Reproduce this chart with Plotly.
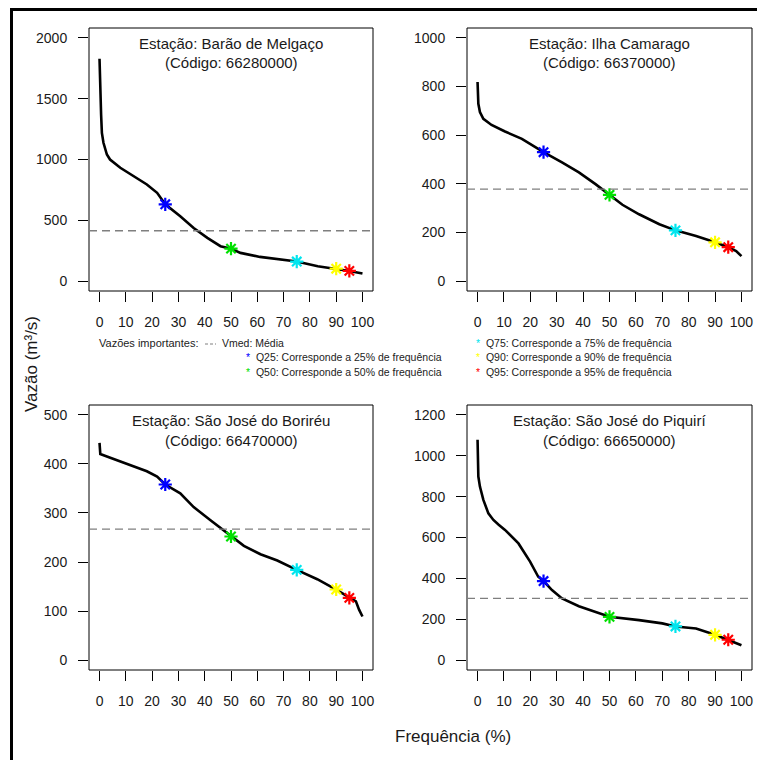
import plotly.graph_objects as go

W, H = 757, 760

# ---------------- data ----------------
stations = ["Estação: Barão de Melgaço", "Estação: Ilha Camarago",
            "Estação: São José do Boriréu", "Estação: São José do Piquirí"]
codes = ["(Código: 66280000)", "(Código: 66370000)",
         "(Código: 66470000)", "(Código: 66650000)"]

freq_1 = [0, 0.05, 0.3, 0.6, 0.9, 1.5, 2.8, 4, 7.9, 13, 18, 21.9, 25, 30.7, 35.8, 41, 46, 50,
          53.6, 61, 70, 75, 83, 90, 95, 100]
vazao_1 = [1827, 1767, 1534, 1370, 1219, 1137, 1041, 1000, 932, 863, 795, 726, 632, 534, 438,
           356, 288, 268, 233, 200, 178, 162, 123, 103, 85, 63]

freq_2 = [0, 0.1, 0.3, 0.9, 2.2, 5.3, 10.4, 16.8, 25, 32, 38.4, 44.7, 50, 54.9, 61.2, 68.9,
          75, 82.8, 90, 95, 98, 100]
vazao_2 = [818, 770, 729, 695, 667, 642, 615, 585, 530, 488, 447, 399, 355, 314, 275, 234,
           209, 186, 160, 140, 124, 103]

freq_3 = [0, 0.1, 0.3, 2.8, 7.9, 13, 18, 21.9, 25, 30.7, 35.8, 42.2, 47.3, 50, 54.9, 61.2,
          67.6, 75, 82.8, 90, 95, 97.5, 98.7, 100]
vazao_3 = [443, 429, 420, 415, 405, 395, 385, 374, 358, 340, 312, 285, 264, 252, 233, 216,
           203, 184, 165, 144, 127, 120, 103, 89]

freq_4 = [0, 0.05, 0.1, 0.3, 0.9, 2.2, 4.1, 6, 8, 10.4, 15.5, 19.9, 23, 25, 28.2, 32, 38.4,
          44.7, 50, 61.2, 70, 75, 82.8, 90, 95, 100]
vazao_4 = [1078, 1045, 931, 898, 849, 784, 718, 686, 662, 637, 571, 482, 408, 387, 343, 302,
           264, 237, 212, 196, 180, 165, 155, 124, 100, 73]

q_freq = [25, 50, 75, 90, 95]
q_names = ["Q25", "Q50", "Q75", "Q90", "Q95"]
q_colors = ["#0000FF", "#00E000", "#00E5EE", "#FFFF00", "#FF0000"]
q_vals_1 = [632, 268, 162, 103, 85]
q_vals_2 = [530, 355, 209, 160, 140]
q_vals_3 = [358, 252, 184, 144, 127]
q_vals_4 = [387, 212, 165, 124, 100]

vmed = [415, 378, 267, 302]

y_max = [2000, 1000, 500, 1200]
y_step = [500, 200, 100, 200]
x_ticks = list(range(0, 101, 10))

curves = [(freq_1, vazao_1), (freq_2, vazao_2), (freq_3, vazao_3), (freq_4, vazao_4)]
qvals = [q_vals_1, q_vals_2, q_vals_3, q_vals_4]

# ---------------- layout geometry (screen pixels) ----------------
boxes = [(89, 373, 28, 291), (467, 752, 28, 291), (89, 373, 405, 670), (467, 752, 405, 670)]


def px(x):
    return x / W


def py(y):
    return 1 - y / H


FONT = "Liberation Sans, Arial, sans-serif"
fig = go.Figure()
layout = dict(width=W, height=H, margin=dict(l=0, r=0, t=0, b=0),
              paper_bgcolor="white", plot_bgcolor="white", showlegend=False,
              font=dict(family=FONT, color="#1a1a1a"))
shapes = []
annotations = []

for i in range(4):
    n = "" if i == 0 else str(i + 1)
    xa, ya = "x" + n, "y" + n
    l, r, t, b = boxes[i]
    fx, fy = curves[i]
    fig.add_trace(go.Scatter(x=fx, y=fy, mode="lines", xaxis=xa, yaxis=ya,
                             line=dict(color="black", width=2.6)))
    for k in range(5):
        fig.add_trace(go.Scatter(x=[q_freq[k]], y=[qvals[i][k]], mode="markers",
                                 xaxis=xa, yaxis=ya,
                                 marker=dict(symbol="asterisk", size=11,
                                             line=dict(color=q_colors[k], width=2.2))))
    pad = 0.04 * y_max[i]
    layout["xaxis" + n] = dict(domain=[px(l), px(r)], anchor=ya, range=[-4, 104],
                               tickvals=x_ticks, ticks="outside", ticklen=10, tickwidth=1,
                               tickcolor="black", showgrid=False, zeroline=False,
                               showline=False, ticklabelstandoff=8,
                               tickfont=dict(size=14, family=FONT, color="#1a1a1a"))
    layout["yaxis" + n] = dict(domain=[py(b), py(t)], anchor=xa,
                               range=[-pad, y_max[i] + pad],
                               tickvals=list(range(0, y_max[i] + 1, y_step[i])),
                               ticks="outside", ticklen=10, tickwidth=1, tickcolor="black",
                               showgrid=False, zeroline=False, showline=False,
                               ticklabelstandoff=8,
                               tickfont=dict(size=14, family=FONT, color="#1a1a1a"))
    shapes.append(dict(type="rect", xref=xa + " domain", yref=ya + " domain",
                       x0=0, x1=1, y0=0, y1=1, line=dict(color="black", width=1)))
    shapes.append(dict(type="line", xref=xa + " domain", yref=ya, x0=0, x1=1,
                       y0=vmed[i], y1=vmed[i],
                       line=dict(color="#7f7f7f", width=1.3, dash="8px,5px")))
    cx = (l + r) / 2
    annotations.append(dict(x=px(cx), y=py(t + 15), xref="paper", yref="paper",
                            text=stations[i], showarrow=False, xanchor="center",
                            yanchor="middle", font=dict(size=15, family=FONT)))
    annotations.append(dict(x=px(cx), y=py(t + 35), xref="paper", yref="paper",
                            text=codes[i], showarrow=False, xanchor="center",
                            yanchor="middle", font=dict(size=15, family=FONT)))

# outer frame
shapes.append(dict(type="rect", xref="paper", yref="paper", x0=px(11.5), x1=1.03,
                   y0=-0.03, y1=py(9.5), line=dict(color="black", width=3)))

# axis titles
annotations.append(dict(x=px(32), y=py(364), xref="paper", yref="paper",
                        text="Vazão (m³/s)", textangle=-90, showarrow=False,
                        xanchor="center", yanchor="middle", font=dict(size=17, family=FONT)))
annotations.append(dict(x=px(453), y=py(736), xref="paper", yref="paper",
                        text="Frequência (%)", showarrow=False,
                        xanchor="center", yanchor="middle", font=dict(size=17, family=FONT)))

# legend block
LF = dict(size=10.5, family=FONT, color="#222")
annotations.append(dict(x=px(200), y=py(343), xref="paper", yref="paper",
                        text="Vazões importantes:", showarrow=False, xanchor="right",
                        yanchor="middle", font=dict(size=11, family=FONT, color="#222")))
shapes.append(dict(type="line", xref="paper", yref="paper", x0=px(205), x1=px(216),
                   y0=py(344), y1=py(344), line=dict(color="#7f7f7f", width=1, dash="3px,2px")))
annotations.append(dict(x=px(220), y=py(343), xref="paper", yref="paper",
                        text="Vmed: Média", showarrow=False, xanchor="left",
                        yanchor="middle", font=LF))

leg_pos = [(244, 357), (244, 372), (474, 343), (474, 357), (474, 372)]
for k in range(5):
    lx, ly = leg_pos[k]
    annotations.append(dict(
        x=px(lx), y=py(ly), xref="paper", yref="paper", showarrow=False,
        xanchor="left", yanchor="middle", font=LF,
        text="<span style='color:%s'>*</span>  %s: Corresponde a %d%% de frequência"
             % (q_colors[k], q_names[k], q_freq[k])))

layout["shapes"] = shapes
layout["annotations"] = annotations
fig.update_layout(**layout)

# remove the default 8px page margin so the 757x760 figure fills the window exactly
reset_page = ("document.documentElement.style.overflow='hidden';"
              "document.body.style.margin='0px';document.body.style.overflow='hidden';")
fig.write_html("out.html", post_script=reset_page, config={"displayModeBar": False})
